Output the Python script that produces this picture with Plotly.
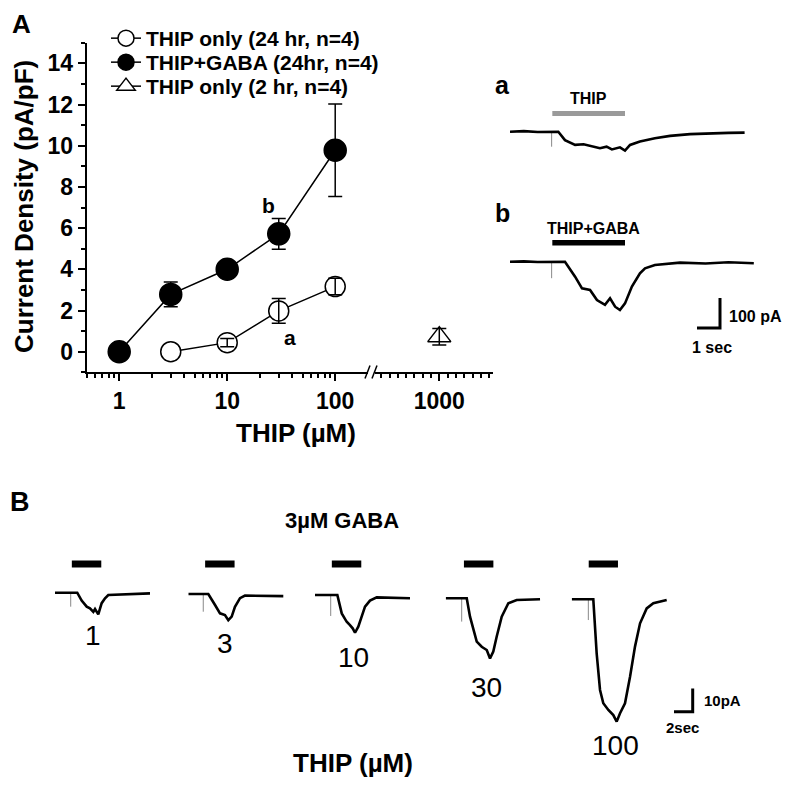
import math
import plotly.graph_objects as go

W, H = 799, 786
OFF = 8  # page body margin compensation
FONT = "Liberation Sans, Arial, sans-serif"

# ---------------- Panel A : dose-response data ----------------
conc_thip24 = [3, 10, 30, 100]
dens_thip24 = [0.0, 0.44, 1.98, 3.16]
err_thip24 = [0.0, 0.2, 0.6, 0.4]

conc_gaba = [1, 3, 10, 30, 100]
dens_gaba = [0.0, 2.78, 4.0, 5.72, 9.78]
err_gaba = [0.0, 0.6, 0.25, 0.75, 2.25]

conc_thip2 = [1000]
dens_thip2 = [0.73]
err_thip2 = [0.4]

names = ["THIP only (24 hr, n=4)", "THIP+GABA (24hr, n=4)", "THIP only (2 hr, n=4)"]

y_tickvals = [0, 2, 4, 6, 8, 10, 12, 14]
x_tickvals_left = [1, 10, 100]
x_ticktext_left = ["1", "10", "100"]
x_tickvals_right = [1000]
x_ticktext_right = ["1000"]

# ---------------- Panel A insets a / b (time s, current pA) ----------------
a_t = [0, 0.6, 1.2, 1.80, 2.10, 2.39, 2.83, 3.2, 3.48, 3.91, 4.2, 4.43, 4.78, 5.00, 5.22, 5.65, 6.30, 6.96, 7.83, 8.70, 9.5, 10.2]
a_I = [0, 2, -1, 0, 0, -28, -44, -42, -48, -55, -50, -59, -52, -63, -44, -33, -22, -14, -8, -5, -4, -3]
a_art_t, a_art_I = 1.81, -50
a_app = (1.84, 5.0)

b_t = [0, 0.6, 1.2, 1.80, 2.39, 2.83, 3.13, 3.48, 3.78, 4.13, 4.35, 4.57, 4.78, 5.00, 5.30, 5.65, 5.87, 6.30, 7.39, 8.5, 9.5, 10.6]
b_I = [0, 1, -1, 0, 0, -50, -89, -94, -128, -144, -122, -150, -161, -139, -83, -39, -22, -11, -3, -6, -2, -5]
b_art_t, b_art_I = 1.81, -55
b_app = (1.84, 5.0)

scale_a_s, scale_a_pA = 1, 100

# ---------------- Panel B traces (time s, current pA) ----------------
B_labels = ["1", "3", "10", "30", "100"]
B1_t = [0, 1.66, 2.38, 2.85, 3.39, 3.74, 4.10, 4.28, 4.63, 4.99, 5.35, 5.70, 10.16]
B1_I = [0, 0, 0, -3.4, -6.0, -6.7, -8.2, -7.0, -9.3, -4.5, -2.4, -1.0, -0.3]
B3_t = [0, 1.58, 2.14, 2.86, 3.39, 3.92, 4.28, 4.64, 4.99, 5.53, 6.06, 10.16]
B3_I = [0, 0, 0, -4.7, -8.3, -9.0, -11.2, -9.7, -5.5, -1.8, -0.7, -0.9]
B10_t = [0, 1.66, 2.39, 2.86, 3.39, 3.74, 4.03, 4.28, 4.63, 4.99, 5.35, 5.88, 6.60, 10.16]
B10_I = [0, 0, 0, -7.9, -11.5, -12.9, -14.3, -16.2, -13.6, -9.3, -5.0, -2.4, -1.0, -1.4]
B30_t = [0, 1.69, 2.25, 2.60, 2.95, 3.32, 3.85, 4.39, 4.74, 5.09, 5.45, 5.99, 6.70, 7.59, 10.09]
B30_I = [0, 0, 0, -7.9, -13.6, -18.6, -20.8, -22.2, -25.8, -22.9, -16.5, -7.9, -2.1, -0.7, -0.4]
B100_t = [0, 1.75, 2.31, 2.67, 3.03, 3.38, 3.92, 4.45, 4.81, 5.17, 5.70, 6.24, 6.77, 7.31, 8.02, 8.73, 10.16]
B100_I = [0, 0, 0, -23.2, -38.9, -44.6, -47.5, -49.7, -52.5, -48.9, -44.6, -33.2, -20.3, -10.3, -3.9, -1.7, -0.3]
B_art_t = [1.68, 1.60, 1.68, 1.71, 1.78]
B_art_I = [-6.0, -7.6, -9.0, -10.0, -8.9]
B_app = [(1.8, 4.95), (1.8, 4.95), (1.8, 4.95), (1.95, 5.1), (1.82, 4.95)]
scale_B_s, scale_B_pA = 2, 10

B_series = [(B1_t, B1_I), (B3_t, B3_I), (B10_t, B10_I), (B30_t, B30_I), (B100_t, B100_I)]

# ---------------- helpers ----------------
def px(x):
    return (x - OFF) / W


def py(y):
    return 1 - (y - OFF) / H


fig = go.Figure()
layout_axes = {}


def add_trace_axes(n, x0_px, base_px, t_range, i_range, px_s, px_pA):
    layout_axes[f"xaxis{n}"] = dict(
        domain=[px(x0_px + t_range[0] * px_s), px(x0_px + t_range[1] * px_s)],
        range=list(t_range), visible=False, anchor=f"y{n}", fixedrange=True)
    layout_axes[f"yaxis{n}"] = dict(
        domain=[py(base_px - i_range[0] * px_pA), py(base_px - i_range[1] * px_pA)],
        range=list(i_range), visible=False, anchor=f"x{n}", fixedrange=True)


def rec_trace(t, I, n, width=2.0):
    fig.add_trace(go.Scatter(x=t, y=I, mode="lines", xaxis=f"x{n}", yaxis=f"y{n}",
                             line=dict(color="black", width=width), showlegend=False,
                             hoverinfo="skip"))


def artifact(t, amp, n):
    fig.add_trace(go.Scatter(x=[t, t], y=[0, amp], mode="lines", xaxis=f"x{n}", yaxis=f"y{n}",
                             line=dict(color="#888", width=1), showlegend=False, hoverinfo="skip"))


shapes = []
annotations = []


def text(s, x, y, size, bold=True, xanchor="center", angle=0):
    annotations.append(dict(text=s, x=px(x), y=py(y), xref="paper", yref="paper",
                            xanchor=xanchor, yanchor="middle", showarrow=False, textangle=angle,
                            font=dict(family=FONT, size=size, color="black",
                                      weight="bold" if bold else "normal")))


# ---------------- Panel A main plot ----------------
line_style = dict(color="black", width=1.5)
fig.add_trace(go.Scatter(
    x=conc_thip24, y=dens_thip24, mode="lines+markers", name=names[0], legend="legend",
    line=line_style,
    marker=dict(symbol="circle", size=20, color="white", line=dict(color="black", width=1.5)),
    xaxis="x", yaxis="y"))
fig.add_trace(go.Scatter(
    x=conc_gaba, y=dens_gaba, mode="lines+markers", name=names[1], legend="legend2",
    line=line_style,
    marker=dict(symbol="circle", size=22, color="black", line=dict(color="black", width=1.5)),
    xaxis="x", yaxis="y"))
fig.add_trace(go.Scatter(
    x=conc_thip2, y=dens_thip2, mode="lines+markers", name=names[2], legend="legend3",
    line=line_style,
    marker=dict(symbol="triangle-up", size=20, color="white", line=dict(color="black", width=1.5)),
    xaxis="x2", yaxis="y"))

# error bars drawn on top of the markers (points without an error bar are skipped)
for xs, ys, es, xa in [(conc_thip24, dens_thip24, err_thip24, "x"),
                       (conc_gaba, dens_gaba, err_gaba, "x"),
                       (conc_thip2, dens_thip2, err_thip2, "x2")]:
    keep = [i for i, e in enumerate(es) if e > 0]
    fig.add_trace(go.Scatter(
        x=[xs[i] for i in keep], y=[ys[i] for i in keep], mode="markers",
        marker=dict(opacity=0, size=4), showlegend=False,
        error_y=dict(type="data", array=[es[i] for i in keep], visible=True,
                     color="black", thickness=1.5, width=7),
        xaxis=xa, yaxis="y", hoverinfo="skip"))

AX_L, AX_BREAK1, AX_BREAK2, AX_R = 86.7, 367.5, 374.5, 492.7
AX_TOP, AX_BOT = 42.7, 372.3
x1_lo = math.log10(0.5)
x1_hi = x1_lo + (AX_BREAK1 - AX_L) / 108.0
x2_scale = 0.083  # px per unit on the right segment
x2_lo = 1000 - (439.3 - AX_BREAK2) / x2_scale
x2_hi = 1000 + (AX_R - 439.3) / x2_scale

tickfont = dict(family=FONT, size=23, color="black", weight="bold")
common_ax = dict(showline=True, linecolor="black", linewidth=2, ticks="outside",
                 ticklen=7, tickwidth=2, tickcolor="black", showgrid=False, zeroline=False,
                 tickfont=tickfont, fixedrange=True)

layout_axes["xaxis"] = dict(
    type="log", range=[x1_lo, x1_hi], domain=[px(AX_L), px(AX_BREAK1)], anchor="y",
    tickmode="array", tickvals=x_tickvals_left, ticktext=x_ticktext_left,
    minor=dict(ticks="outside", ticklen=4, tickwidth=1.5, tickcolor="black", dtick="D1"),
    **common_ax)
layout_axes["xaxis2"] = dict(
    type="linear", range=[x2_lo, x2_hi], domain=[px(AX_BREAK2), px(AX_R)], anchor="y",
    tickmode="array", tickvals=x_tickvals_right, ticktext=x_ticktext_right,
    minor=dict(ticks="outside", ticklen=4, tickwidth=1.5, tickcolor="black",
               tickmode="linear", tick0=0, dtick=100),
    **common_ax)
layout_axes["yaxis"] = dict(
    range=[-1, 15], domain=[py(AX_BOT), py(AX_TOP)], anchor="x",
    tickmode="array", tickvals=y_tickvals, ticktext=[str(v) for v in y_tickvals],
    minor=dict(ticks="outside", ticklen=4, tickwidth=1.5, tickcolor="black",
               tickmode="linear", tick0=-1, dtick=1),
    **common_ax)

# axis break marks
for xa, xb in [(365, 370), (372, 377)]:
    shapes.append(dict(type="line", xref="paper", yref="paper",
                       x0=px(xa), y0=py(378.5), x1=px(xb), y1=py(365.5),
                       line=dict(color="black", width=1.5)))

text("A", 21, 24, 26)
text("Current Density (pA/pF)", 24, 207, 26, angle=-90)
text("THIP (µM)", 296, 433, 26)
text("b", 268, 206, 21)
text("a", 290, 338, 21)

# ---------------- insets a / b ----------------
PX_S_A, PX_PA_A = 23.0, 0.3
add_trace_axes(3, 510, 131.7, (0, 11), (-100, 30), PX_S_A, PX_PA_A)
add_trace_axes(4, 510, 261.7, (0, 11), (-250, 30), PX_S_A, PX_PA_A)
artifact(a_art_t, a_art_I, 3)
rec_trace(a_t, a_I, 3, 2.6)
artifact(b_art_t, b_art_I, 4)
rec_trace(b_t, b_I, 4, 2.6)
shapes.append(dict(type="rect", xref="x3", yref="paper", x0=a_app[0], x1=a_app[1],
                   y0=py(116), y1=py(111), fillcolor="#9a9a9a", line=dict(width=0)))
shapes.append(dict(type="rect", xref="x4", yref="paper", x0=b_app[0], x1=b_app[1],
                   y0=py(245.5), y1=py(240), fillcolor="black", line=dict(width=0)))
# scale bar (1 s, 100 pA)
sb_t = (720 - 510) / PX_S_A
sb_I = (261.7 - 328) / PX_PA_A
fig.add_trace(go.Scatter(x=[sb_t - scale_a_s, sb_t, sb_t], y=[sb_I, sb_I, sb_I + scale_a_pA],
                         mode="lines", xaxis="x4", yaxis="y4", showlegend=False,
                         line=dict(color="black", width=3), hoverinfo="skip"))
text("a", 502, 85, 25)
text("b", 502, 213, 25)
text("THIP", 588, 99, 16)
text("THIP+GABA", 593, 229, 16)
text(f"{scale_a_pA} pA", 727, 316, 16, xanchor="left")
text(f"{scale_a_s} sec", 712, 347, 16)

# ---------------- Panel B ----------------
PX_S_B, PX_PA_B = 9.35, 2.33
B_starts = [55, 188.3, 315, 445.7, 571.7]
B_bases = [592.7, 594, 595, 598.3, 599.3]
B_label_pos = [(92.7, 635), (225, 643), (353.3, 657), (486.7, 687), (615, 745)]
for k, ((t, I), x0, b0) in enumerate(zip(B_series, B_starts, B_bases)):
    n = 5 + k
    add_trace_axes(n, x0, b0, (0, 14), (-60, 10), PX_S_B, PX_PA_B)
    artifact(B_art_t[k], B_art_I[k], n)
    rec_trace(t, I, n, 2.6)
    shapes.append(dict(type="rect", xref=f"x{n}", yref="paper", x0=B_app[k][0], x1=B_app[k][1],
                       y0=py(567.5), y1=py(560.5), fillcolor="black", line=dict(width=0)))
    text(B_labels[k], B_label_pos[k][0], B_label_pos[k][1], 28, bold=False)

sbB_t = (692.7 - 571.7) / PX_S_B
sbB_I = (599.3 - 711.7) / PX_PA_B
fig.add_trace(go.Scatter(x=[sbB_t - scale_B_s, sbB_t, sbB_t], y=[sbB_I, sbB_I, sbB_I + scale_B_pA],
                         mode="lines", xaxis="x9", yaxis="y9", showlegend=False,
                         line=dict(color="black", width=3), hoverinfo="skip"))
text(f"{scale_B_pA}pA", 702, 700, 15, xanchor="left")
text(f"{scale_B_s}sec", 682, 727, 15)
text("B", 20, 502, 27)
text("3µM GABA", 342, 520, 22)
text("THIP (µM)", 353, 763, 26)

legend_font = dict(family=FONT, size=21, color="black", weight="bold")
legend_common = dict(xanchor="left", yanchor="top", bgcolor="rgba(0,0,0,0)",
                     borderwidth=0, font=legend_font)
legend_tops = [18, 42, 66]

fig.update_layout(
    width=W, height=H, margin=dict(l=0, r=0, t=0, b=0),
    paper_bgcolor="white", plot_bgcolor="white",
    font=dict(family=FONT, color="black"),
    legend=dict(x=px(106), y=py(legend_tops[0]), **legend_common),
    legend2=dict(x=px(106), y=py(legend_tops[1]), **legend_common),
    legend3=dict(x=px(106), y=py(legend_tops[2]), **legend_common),
    shapes=shapes, annotations=annotations, showlegend=True,
    **layout_axes)

fig.write_html("out.html")
